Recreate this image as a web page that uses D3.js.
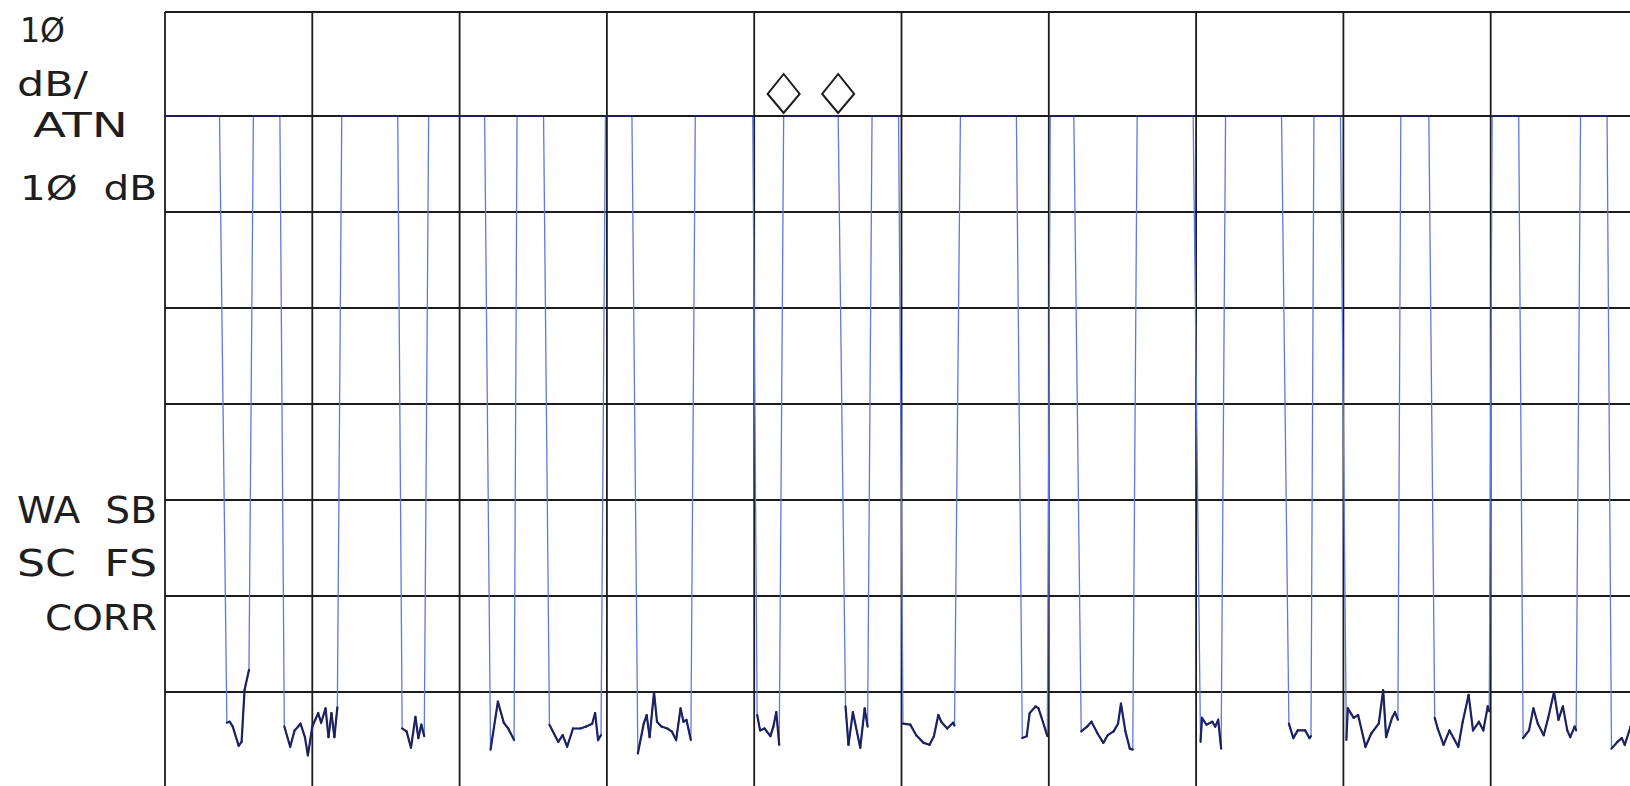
<!DOCTYPE html>
<html>
<head>
<meta charset="utf-8">
<script src="https://cdn.jsdelivr.net/npm/d3@7"></script>
<style>
  body { margin: 0; background: #fff; }
  .label { font-family: "DejaVu Sans", sans-serif; fill: #1e1e1e; }
</style>
</head>
<body>
<div class="chart"></div>
<script>

// screen annotations (left margin of the analyzer plot)
var labelText = ["1\u00D8", "dB/", "ATN", "1\u00D8  dB", "WA  SB", "SC  FS", "CORR"];

// vertical divisions (dB) and horizontal divisions
var dbLines = [0, -10, -20, -30, -40, -50, -60, -70, -80];
var freqDivs = [0, 1, 2, 3, 4, 5, 6, 7, 8, 9, 10];

// marker positions (divisions)
var markers = [4.20, 4.57];

// trace: [division, dB]
var trace = [
    [0.00, -10], [0.37, -10],
    [0.42, -73.2], [0.44, -73.1], [0.46, -73.6], [0.50, -75.6], [0.52, -75.2], [0.54, -69.8], [0.57, -67.7],
    [0.60, -10], [0.78, -10],
    [0.81, -73.6], [0.85, -75.7], [0.88, -74.0], [0.92, -73.3], [0.95, -74.7], [0.97, -76.6], [1.00, -73.6],
    [1.02, -72.9], [1.04, -72.2], [1.06, -73.2], [1.09, -71.7], [1.11, -74.7], [1.13, -72.2], [1.15, -74.7], [1.17, -71.6],
    [1.20, -10], [1.58, -10],
    [1.61, -73.8], [1.64, -74.1], [1.67, -75.8], [1.70, -72.6], [1.72, -74.8], [1.74, -73.4], [1.76, -74.6],
    [1.79, -10], [2.17, -10],
    [2.21, -76.0], [2.26, -71.0], [2.30, -73.2], [2.33, -73.8], [2.37, -75.0],
    [2.39, -10], [2.57, -10],
    [2.61, -73.4], [2.67, -75.2], [2.70, -74.5], [2.73, -75.7], [2.77, -73.8], [2.82, -73.8], [2.86, -73.6],
    [2.90, -73.3], [2.92, -72.2], [2.94, -75.0], [2.96, -74.5],
    [2.99, -10], [3.17, -10],
    [3.21, -76.4], [3.25, -73.3], [3.27, -72.4], [3.29, -74.7], [3.32, -70.0], [3.34, -73.1], [3.37, -73.6],
    [3.41, -73.8], [3.44, -74.1], [3.47, -75.0], [3.50, -71.7], [3.52, -73.1], [3.54, -72.9], [3.57, -75.0],
    [3.60, -10], [3.99, -10],
    [4.02, -72.4], [4.04, -74.0], [4.07, -73.8], [4.11, -74.6], [4.13, -73.6], [4.15, -72.1], [4.17, -75.5],
    [4.20, -10], [4.57, -10],
    [4.62, -71.5], [4.64, -75.5], [4.67, -72.1], [4.72, -75.8], [4.75, -71.7], [4.77, -73.6],
    [4.80, -10], [4.98, -10],
    [5.01, -73.3], [5.06, -73.4], [5.10, -74.5], [5.15, -75.3], [5.19, -75.5], [5.22, -74.6], [5.25, -72.4],
    [5.27, -73.1], [5.31, -73.8], [5.35, -73.2], [5.36, -73.5],
    [5.40, -10], [5.78, -10],
    [5.82, -74.8], [5.85, -74.6], [5.87, -72.2], [5.91, -71.5], [5.93, -71.7], [5.96, -73.1], [5.99, -74.6],
    [6.01, -10], [6.17, -10],
    [6.22, -74.1], [6.26, -73.6], [6.29, -73.1], [6.33, -74.3], [6.37, -75.3], [6.40, -74.5], [6.44, -74.1],
    [6.47, -73.3], [6.49, -71.2], [6.52, -74.1], [6.55, -75.9], [6.57, -76.0],
    [6.60, -10], [6.98, -10],
    [7.03, -75.2], [7.04, -72.7], [7.07, -73.4], [7.11, -73.1], [7.13, -73.6], [7.15, -72.9], [7.17, -75.9],
    [7.20, -10], [7.58, -10],
    [7.63, -73.3], [7.66, -74.8], [7.69, -74.0], [7.74, -74.0], [7.77, -74.8], [7.78, -74.6],
    [7.80, -10], [7.98, -10],
    [8.02, -75.0], [8.03, -71.7], [8.07, -72.7], [8.10, -72.4], [8.15, -75.7], [8.19, -74.3], [8.24, -73.3],
    [8.27, -69.8], [8.29, -74.7], [8.33, -72.7], [8.35, -72.1], [8.37, -72.9],
    [8.39, -10], [8.58, -10],
    [8.62, -72.7], [8.64, -73.8], [8.68, -75.5], [8.72, -74.0], [8.78, -75.7], [8.81, -73.1], [8.85, -70.3],
    [8.88, -74.0], [8.92, -73.1], [8.95, -74.0], [8.98, -71.5], [8.99, -72.0],
    [9.01, -10], [9.19, -10],
    [9.22, -74.8], [9.26, -74.0], [9.29, -71.7], [9.32, -73.3], [9.36, -74.5], [9.39, -72.7], [9.43, -70.0],
    [9.46, -72.9], [9.49, -71.5], [9.52, -74.0], [9.54, -74.7], [9.57, -73.6], [9.58, -74.0],
    [9.61, -10], [9.79, -10],
    [9.82, -75.9], [9.86, -75.2], [9.89, -74.8], [9.91, -75.5], [9.95, -73.6], [10.00, -73.0]
];

var svgWidth = 1630;
var svgHeight = 786;

var svg = d3.select(".chart")
    .append("svg")
    .attr("width", svgWidth)
    .attr("height", svgHeight)
    .style("display", "block");

svg.append("rect")
    .attr("width", svgWidth)
    .attr("height", svgHeight)
    .attr("fill", "#fff");

var xScale = d3.scaleLinear()
    .domain([0, 10])
    .range([165, 1638]);

// the scanned graticule has a slightly taller top division
var yScale = d3.scaleLinear()
    .domain([-80, -10, 0])
    .range([788, 116, 12]);

var grid = svg.append("g").attr("class", "grid");

grid.selectAll("line.h")
    .data(dbLines)
    .enter()
    .append("line")
    .attr("class", "h")
    .attr("x1", xScale(0))
    .attr("x2", xScale(10))
    .attr("y1", d => yScale(d))
    .attr("y2", d => yScale(d))
    .attr("stroke", "#1c1c1c")
    .attr("stroke-width", 1.8);

grid.selectAll("line.v")
    .data(freqDivs)
    .enter()
    .append("line")
    .attr("class", "v")
    .attr("x1", d => xScale(d))
    .attr("x2", d => xScale(d))
    .attr("y1", yScale(0))
    .attr("y2", yScale(-80))
    .attr("stroke", "#1c1c1c")
    .attr("stroke-width", 1.8);

// trace - fast transitions come out light blue on the plotter
var line = d3.line()
    .x(d => xScale(d[0]))
    .y(d => yScale(d[1]));

svg.append("path")
    .datum(trace)
    .attr("fill", "none")
    .attr("stroke", "#5b78e6")
    .attr("stroke-width", 1.3)
    .attr("d", line);

// slow parts (top level and noise floor) drawn darker
var pairs = d3.pairs(trace).filter(p => Math.abs(p[0][1] - p[1][1]) < 15);

svg.selectAll("line.slow")
    .data(pairs)
    .enter()
    .append("line")
    .attr("class", "slow")
    .attr("x1", d => xScale(d[0][0]))
    .attr("y1", d => yScale(d[0][1]))
    .attr("x2", d => xScale(d[1][0]))
    .attr("y2", d => yScale(d[1][1]))
    .attr("stroke", "#1d2160")
    .attr("stroke-width", 2.2)
    .attr("stroke-linecap", "round");

// markers sit on the trace, drawn as diamonds above it
svg.selectAll("path.marker")
    .data(markers)
    .enter()
    .append("path")
    .attr("class", "marker")
    .attr("transform", d => `translate(${xScale(d)}, ${yScale(-10)})`)
    .attr("d", "M0,-3 L-16,-22 L0,-42 L16,-22 Z")
    .attr("fill", "none")
    .attr("stroke", "#1c1c1c")
    .attr("stroke-width", 2);

// annotation layout: x, baseline, length, font size
var labelLayout = [
    [20, 42, 45, 33],
    [17, 96, 71, 33],
    [33, 137, 95, 33],
    [20, 200, 137, 33],
    [17, 523, 140, 38],
    [17, 576, 140, 38],
    [45, 630, 112, 36]
];

svg.selectAll("text.label")
    .data(labelText)
    .enter()
    .append("text")
    .attr("class", "label")
    .attr("x", (d, i) => labelLayout[i][0])
    .attr("y", (d, i) => labelLayout[i][1])
    .attr("textLength", (d, i) => labelLayout[i][2])
    .attr("lengthAdjust", "spacingAndGlyphs")
    .style("font-size", (d, i) => labelLayout[i][3] + "px")
    .style("white-space", "pre")
    .text(d => d);

</script>
</body>
</html>
